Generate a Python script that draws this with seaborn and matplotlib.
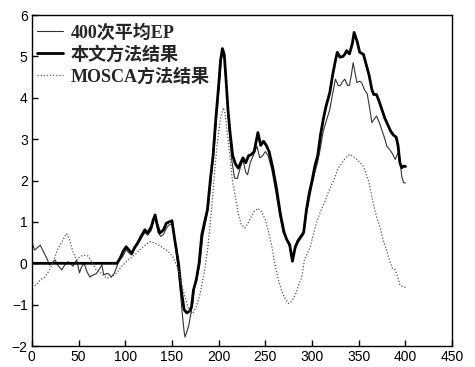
import matplotlib
matplotlib.use("Agg")
import matplotlib.pyplot as plt
import seaborn as sns
import pandas as pd

sns.set_style("white")
plt.rcParams["font.family"] = ["Liberation Sans", "DejaVu Sans"]

# 400-trial averaged EP
avg_x = [0, 3, 6, 9, 12, 16, 19, 22, 25, 28, 32, 35, 39, 42, 44, 48, 51, 53, 56, 59,
         62, 66, 69, 72, 75, 77, 80, 82, 85, 88, 91, 94, 97, 101, 104, 107, 110, 113, 117, 121,
         124, 128, 131, 133, 135, 138, 141, 144, 147, 150, 153, 156, 159, 161, 163, 164, 166, 168, 170, 172,
         174, 177, 180, 183, 186, 189, 192, 195, 198, 201, 203, 205, 207, 209, 211, 214, 217, 220, 223, 226,
         229, 231, 234, 237, 241, 244, 247, 250, 253, 257, 261, 265, 269, 273, 276, 279, 282, 285, 288, 291,
         294, 297, 300, 303, 306, 309, 312, 316, 319, 322, 325, 328, 330, 333, 335, 338, 340, 342, 344, 346,
         348, 351, 353, 356, 359, 362, 364, 367, 369, 372, 375, 378, 380, 383, 386, 389, 392, 394, 396, 398, 400]
avg_y = [0.52, 0.32, 0.38, 0.44, 0.30, 0.12, -0.04, 0.02, 0.08, -0.05, -0.16, -0.05, 0.04, -0.02, -0.07, 0.08, -0.23, -0.10, 0.00, -0.20,
         -0.33, -0.28, -0.25, -0.15, -0.04, -0.28, -0.25, -0.25, -0.33, -0.25, -0.08, 0.10, 0.15, 0.33, 0.25, 0.20, 0.35, 0.45, 0.60, 0.75,
         0.68, 0.80, 1.10, 1.00, 0.75, 0.65, 0.70, 0.85, 0.93, 0.95, 0.55, 0.00, -0.70, -1.20, -1.65, -1.78, -1.65, -1.50, -1.25, -1.00,
         -0.60, -0.35, 0.00, 0.65, 1.00, 1.35, 2.05, 2.70, 3.60, 4.40, 4.95, 5.10, 4.80, 4.10, 3.30, 2.50, 2.06, 2.05, 2.30, 2.50,
         2.20, 2.14, 2.45, 2.60, 2.83, 2.55, 2.60, 2.70, 2.60, 2.25, 1.75, 1.20, 0.75, 0.55, 0.40, 0.05, 0.35, 0.50, 0.60, 0.70,
         1.20, 1.55, 1.90, 2.20, 2.45, 2.80, 3.20, 3.50, 3.72, 4.10, 4.45, 4.30, 4.29, 4.40, 4.45, 4.30, 4.30, 4.55, 4.85, 4.60,
         4.37, 4.40, 4.37, 4.20, 4.10, 3.70, 3.40, 3.50, 3.56, 3.40, 3.20, 3.00, 2.83, 2.75, 2.65, 2.51, 2.67, 2.50, 2.10, 1.95, 1.94]

# Proposed method estimate
ours_x = [0, 91, 94, 96, 98, 101, 104, 107, 110, 113, 117, 121, 124, 128, 130, 132, 134, 137, 141, 144,
          147, 150, 153, 157, 160, 163, 166, 169, 171, 173, 176, 179, 182, 185, 188, 191, 194, 197, 200, 202,
          204, 206, 208, 210, 212, 215, 218, 221, 224, 226, 229, 232, 235, 238, 242, 245, 248, 251, 254, 258,
          262, 266, 270, 273, 276, 279, 282, 285, 288, 291, 294, 297, 300, 303, 306, 309, 312, 315, 319, 322,
          325, 327, 330, 333, 335, 337, 340, 343, 345, 348, 351, 355, 358, 361, 364, 366, 369, 372, 375, 378,
          381, 384, 387, 390, 392, 394, 396, 398, 400]
ours_y = [0.00, 0.00, 0.10, 0.20, 0.30, 0.40, 0.32, 0.24, 0.38, 0.48, 0.65, 0.81, 0.73, 0.89, 1.05, 1.17, 0.95, 0.73, 0.81, 0.97,
          1.00, 1.03, 0.57, 0.00, -0.65, -1.12, -1.20, -1.15, -1.05, -0.65, -0.40, 0.00, 0.70, 1.00, 1.30, 2.00, 2.60, 3.50, 4.30, 4.90,
          5.19, 5.05, 4.40, 3.70, 3.20, 2.60, 2.40, 2.30, 2.45, 2.55, 2.43, 2.60, 2.63, 2.70, 3.16, 2.85, 2.95, 2.85, 2.70, 2.30,
          1.80, 1.20, 0.75, 0.57, 0.45, 0.05, 0.40, 0.55, 0.65, 0.75, 1.30, 1.70, 2.00, 2.35, 2.60, 3.10, 3.48, 3.80, 4.13, 4.55,
          4.90, 5.10, 4.98, 5.00, 5.05, 5.14, 5.06, 5.30, 5.58, 5.38, 5.10, 5.05, 4.80, 4.55, 4.20, 4.08, 4.08, 3.90, 3.70, 3.50,
          3.35, 3.20, 3.10, 3.05, 2.85, 2.43, 2.31, 2.35, 2.34]

# MOSCA estimate
mosca_x = [0, 5, 9, 14, 19, 24, 28, 33, 37, 40, 44, 48, 51, 55, 60, 64, 69, 75, 80, 85,
           90, 96, 103, 110, 117, 122, 126, 131, 135, 140, 144, 148, 151, 154, 157, 160, 164, 168, 172, 176,
           180, 184, 188, 192, 196, 199, 202, 205, 207, 210, 212, 215, 218, 221, 224, 228, 231, 234, 238, 242,
           246, 250, 253, 257, 260, 264, 268, 271, 275, 278, 282, 286, 289, 292, 295, 298, 302, 305, 309, 313,
           317, 320, 324, 328, 332, 336, 340, 344, 348, 352, 355, 358, 361, 364, 367, 370, 373, 376, 380, 384,
           386, 389, 392, 394, 397, 400]
mosca_y = [-0.57, -0.52, -0.40, -0.33, -0.16, 0.10, 0.36, 0.55, 0.72, 0.60, 0.28, 0.08, 0.15, 0.20, 0.18, 0.04, -0.16, -0.25, -0.36, -0.33,
           -0.25, -0.08, 0.08, 0.20, 0.36, 0.45, 0.52, 0.50, 0.45, 0.38, 0.32, 0.24, 0.16, 0.00, -0.16, -0.49, -0.81, -1.13, -1.22, -1.05,
           -0.75, -0.30, 0.30, 1.20, 2.30, 3.00, 3.50, 3.76, 3.60, 3.00, 2.59, 1.95, 1.60, 1.20, 0.95, 0.85, 0.95, 1.09, 1.25, 1.33,
           1.25, 1.05, 0.80, 0.40, 0.00, -0.41, -0.70, -0.85, -0.97, -0.92, -0.77, -0.50, -0.33, 0.10, 0.25, 0.40, 0.75, 1.00, 1.25, 1.45,
           1.70, 1.85, 2.05, 2.30, 2.43, 2.55, 2.63, 2.58, 2.51, 2.42, 2.34, 2.15, 1.95, 1.60, 1.30, 1.05, 0.85, 0.57, 0.30, 0.00,
           -0.12, -0.16, -0.35, -0.53, -0.56, -0.58]

labels = ["400次平均EP", "本文方法结果", "MOSCA方法结果"]
x_ticks = [0, 50, 100, 150, 200, 250, 300, 350, 400, 450]
y_ticks = [-2, -1, 0, 1, 2, 3, 4, 5, 6]

df_avg = pd.DataFrame({"t": avg_x, "v": avg_y})
df_ours = pd.DataFrame({"t": ours_x, "v": ours_y})
df_mosca = pd.DataFrame({"t": mosca_x, "v": mosca_y})

fig = plt.figure(figsize=(4.75, 3.67), dpi=100)
ax = fig.add_axes([0.067, 0.057, 0.885, 0.902])

sns.lineplot(data=df_avg, x="t", y="v", ax=ax, color="#333333", linewidth=0.8, label=labels[0])
sns.lineplot(data=df_ours, x="t", y="v", ax=ax, color="black", linewidth=2.0, label=labels[1])
sns.lineplot(data=df_mosca, x="t", y="v", ax=ax, color="#555555", linewidth=0.9,
             linestyle=(0, (1, 1.5)), label=labels[2])

ax.set_xlim(0, 450)
ax.set_ylim(-2, 6)
ax.set_xticks(x_ticks)
ax.set_yticks(y_ticks)
ax.set_xlabel("")
ax.set_ylabel("")
ax.tick_params(direction="in", length=4, width=1, labelsize=10, pad=3,
               bottom=True, left=True, top=False, right=False, colors="black")
for side in ["left", "bottom", "top", "right"]:
    ax.spines[side].set_visible(True)
    ax.spines[side].set_color("black")
    ax.spines[side].set_linewidth(1.0)

leg = ax.legend(loc="upper left", bbox_to_anchor=(0.0, 0.989), frameon=False,
                handlelength=1.45, handletextpad=0.4, borderaxespad=0.0,
                labelspacing=0.25, borderpad=0.3,
                prop={"family": ["Liberation Serif", "Noto Sans CJK SC"], "weight": "bold", "size": 13})

fig.savefig("out.png", dpi=100)
